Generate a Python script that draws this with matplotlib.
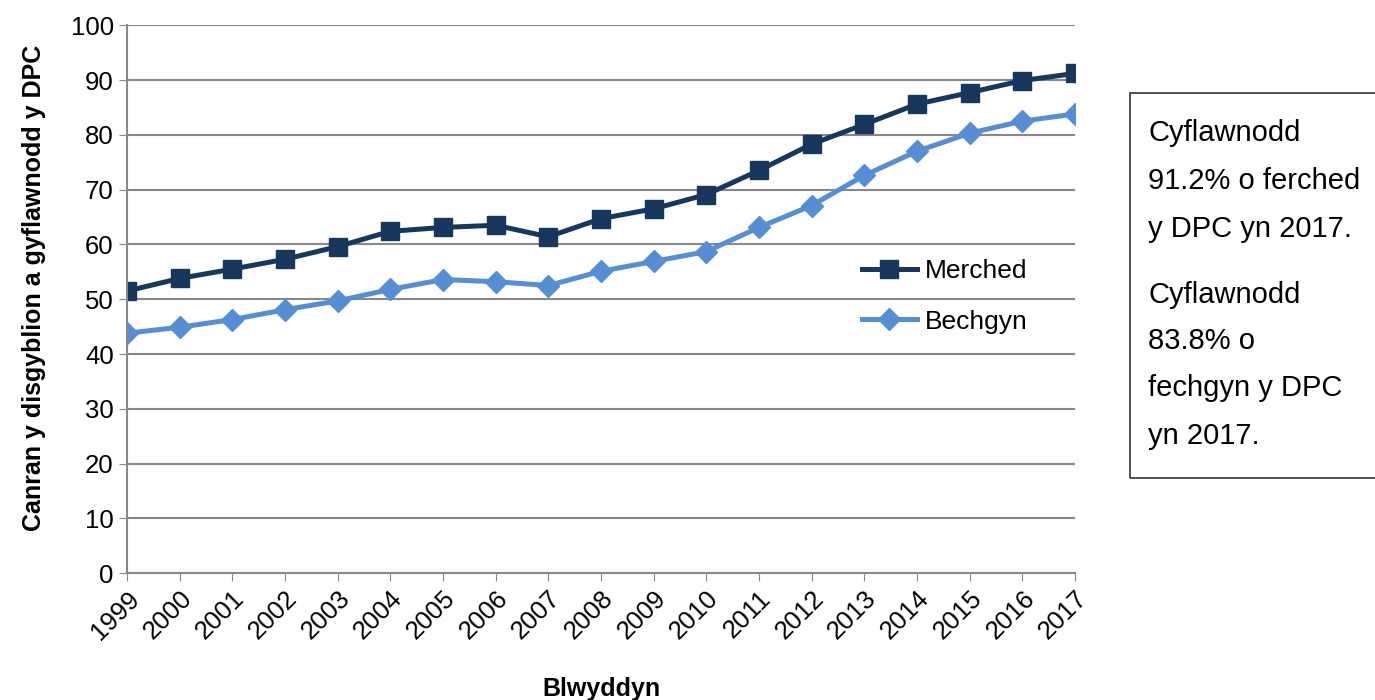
import matplotlib.pyplot as plt
from matplotlib.patches import Rectangle

plt.rcParams['font.family'] = ['Liberation Sans', 'DejaVu Sans']

years = list(range(1999, 2018))
merched = [51.5, 53.8, 55.5, 57.3, 59.6, 62.4, 63.1, 63.5, 61.4, 64.7,
           66.5, 69.1, 73.5, 78.3, 81.9, 85.6, 87.7, 89.9, 91.2]
bechgyn = [43.8, 44.9, 46.3, 48.1, 49.7, 51.8, 53.6, 53.2, 52.5, 55.1,
           56.9, 58.7, 63.1, 67.1, 72.6, 77.0, 80.3, 82.5, 83.8]
box_lines = ["Cyflawnodd", "91.2% o ferched", "y DPC yn 2017.",
             "Cyflawnodd", "83.8% o", "fechgyn y DPC", "yn 2017."]

fig = plt.figure(figsize=(13.75, 7), dpi=100)
ax = fig.add_axes([0.0924, 0.181, 0.6894, 0.783])

ax.plot(years, merched, color='#17375E', lw=3.6, marker='s', ms=13, label='Merched')
ax.plot(years, bechgyn, color='#558ED5', lw=3.6, marker='D', ms=11, label='Bechgyn')

ax.set_xlim(1999, 2017)
ax.set_ylim(0, 100)
ax.set_yticks(range(0, 101, 10))
ax.set_xticks(years)
ax.set_xticklabels([str(y) for y in years], rotation=45, ha='right',
                   rotation_mode='anchor', fontsize=18.5)
ax.tick_params(axis='y', labelsize=18.5, length=6, color='#888888')
ax.tick_params(axis='x', length=6, color='#888888')
ax.grid(axis='y', color='#888888', lw=1.5)
ax.set_axisbelow(True)
for s in ['top', 'right']:
    ax.spines[s].set_visible(False)
for s in ['left', 'bottom']:
    ax.spines[s].set_color('#888888')
    ax.spines[s].set_linewidth(1.5)

ax.set_xlabel('Blwyddyn', fontsize=18, fontweight='bold', labelpad=24)
ax.set_ylabel('Canran y disgyblion a gyflawnodd y DPC', fontsize=18,
              fontweight='bold')
ax.yaxis.set_label_coords(-0.085, 0.52)

ax.legend(loc='center left', bbox_to_anchor=(0.75, 0.505), frameon=False,
          fontsize=19, handlelength=2.1, labelspacing=1.0, handletextpad=0.3)

fig.patches.append(Rectangle((0.8218, 0.317), 0.3, 0.55, transform=fig.transFigure,
                             fill=False, edgecolor='#333333', lw=1.2))
ys = [133, 181, 229, 295, 341, 388, 436]
for t, y in zip(box_lines, ys):
    fig.text(0.835, 1 - y / 700, t, fontsize=21, va='center', ha='left')

fig.savefig('out.png', dpi=100)
